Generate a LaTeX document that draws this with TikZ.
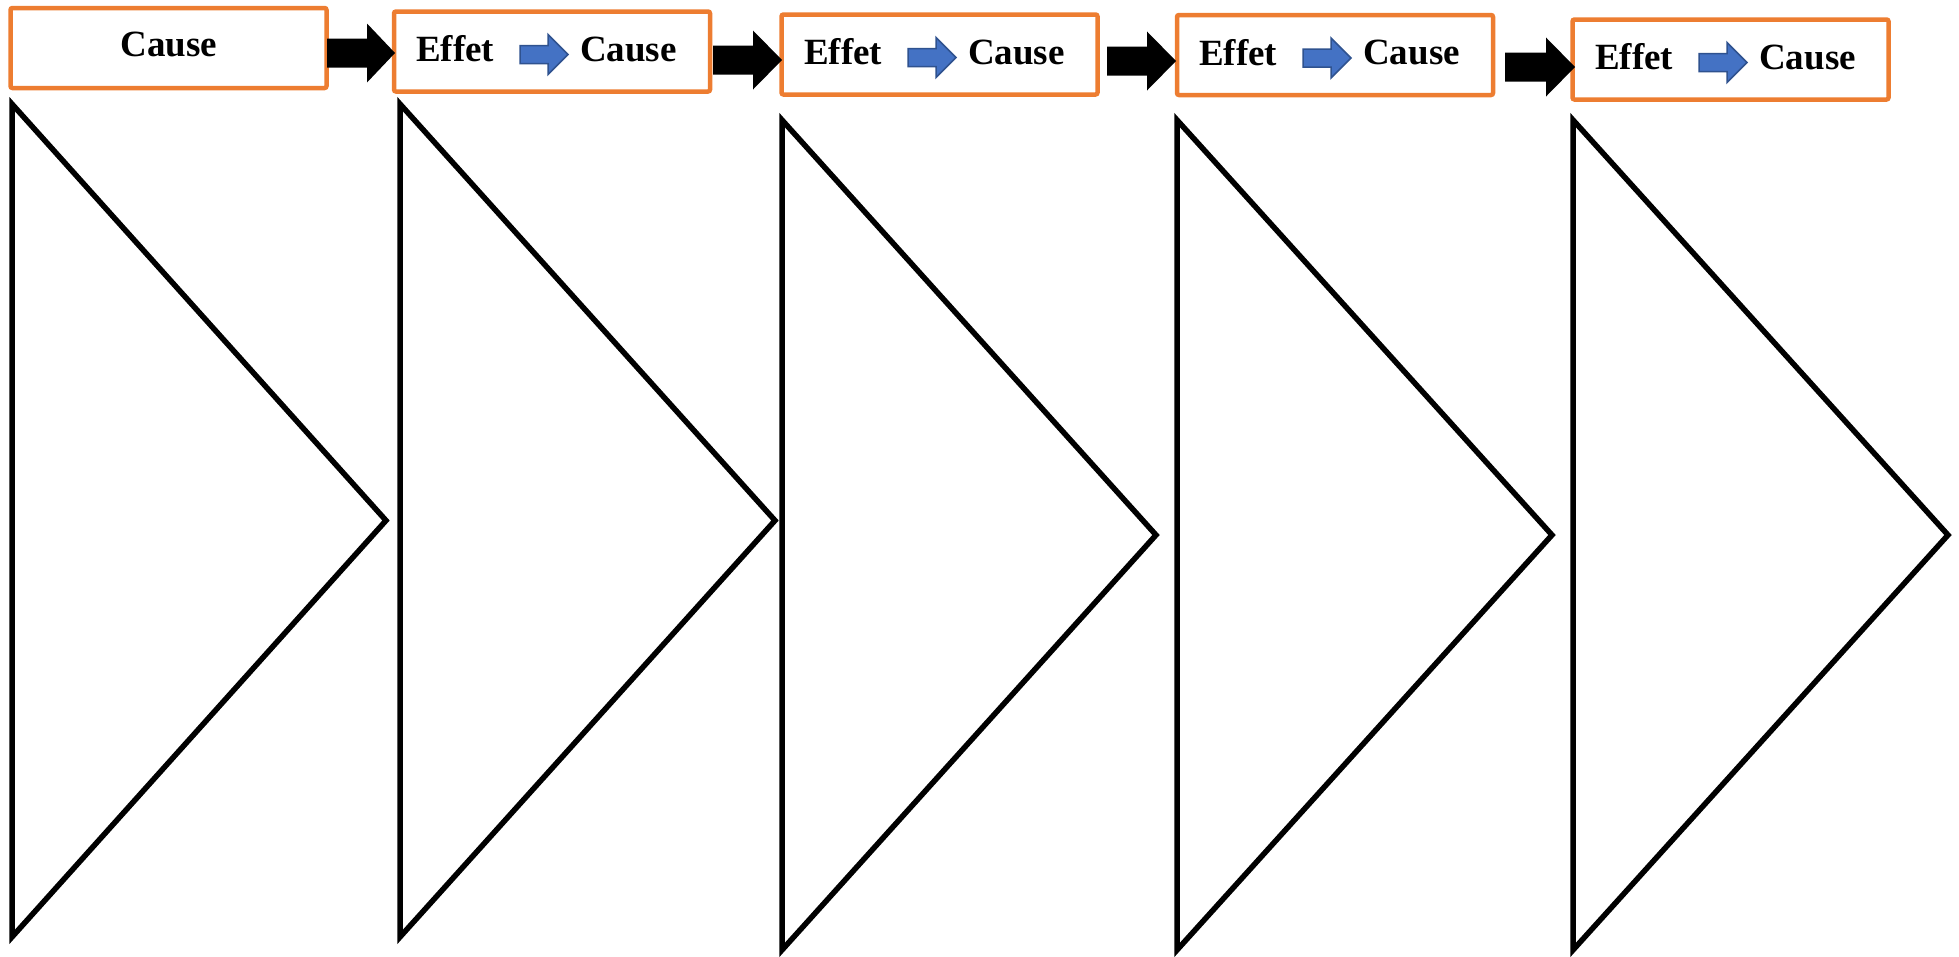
\documentclass[tikz,border=0pt]{standalone}
\usepackage{fontspec}
\setmainfont{Liberation Serif}
\usetikzlibrary{calc}
\definecolor{boxorange}{RGB}{237,125,49}
\definecolor{arrowblue}{RGB}{68,114,196}
\definecolor{arrowblueedge}{RGB}{47,82,143}
\tikzset{
  obox/.style={draw=boxorange, line width=4.5pt, rounded corners=2pt, fill=white,
    minimum width=316pt, minimum height=80pt, inner sep=0pt},
  lbl/.style={inner sep=0pt, font=\fontsize{37}{44}\selectfont\bfseries},
  tri/.style={draw=black, line width=5.5pt, line join=miter},
  barrow/.style={fill=arrowblue, draw=arrowblueedge, line width=1.5pt, line join=miter},
  karrow/.style={fill=black}
}
\newcommand{\bluearr}[2]{%
  \draw[barrow] (#1,#2-9) -- (#1+28,#2-9) -- (#1+28,#2-20) -- (#1+48,#2)
    -- (#1+28,#2+20) -- (#1+28,#2+9) -- (#1,#2+9) -- cycle;}
\newcommand{\blkarr}[4]{%
  \fill[karrow] (#1,#4-14.5) -- (#2,#4-14.5) -- (#2,#4-29.5) -- (#3,#4)
    -- (#2,#4+29.5) -- (#2,#4+14.5) -- (#1,#4+14.5) -- cycle;}
\begin{document}
\begin{tikzpicture}[x=1pt,y=-1pt]
\useasboundingbox (0,0) rectangle (1959,956);

% boxes
\node[obox] (b1) at (168.5,48) {};
\node[obox] (b2) at (552,51.5) {};
\node[obox] (b3) at (939.5,54.5) {};
\node[obox] (b4) at (1335,55) {};
\node[obox] (b5) at (1730.5,59.5) {};

% box texts
\node[lbl] (c1) at (169,44) {Cause};
\foreach \L/\cy/\n in {394/51.5/2, 782/54.5/3, 1177/55/4, 1573/59.5/5}{
  \node[lbl, anchor=west] (e\n) at (\L+22,\cy-2.5) {Effet};
  \node[lbl, anchor=west] (c\n) at (\L+186,\cy-2.5) {Cause};
  \bluearr{\L+126}{\cy+3}
}

% black arrows between boxes
\blkarr{327}{367}{395}{53}
\blkarr{713}{753}{782}{60}
\blkarr{1107}{1147}{1176}{61}
\blkarr{1505}{1546}{1575}{67}

% triangles
\draw[tri] (12,104) -- (12,937) -- (386,520.5) -- cycle;
\draw[tri] (400,104) -- (400,937) -- (775,520.5) -- cycle;
\draw[tri] (782,120) -- (782,950) -- (1156,535) -- cycle;
\draw[tri] (1177,120) -- (1177,950) -- (1552,535) -- cycle;
\draw[tri] (1573,120) -- (1573,950) -- (1948,535) -- cycle;
\end{tikzpicture}
\end{document}
